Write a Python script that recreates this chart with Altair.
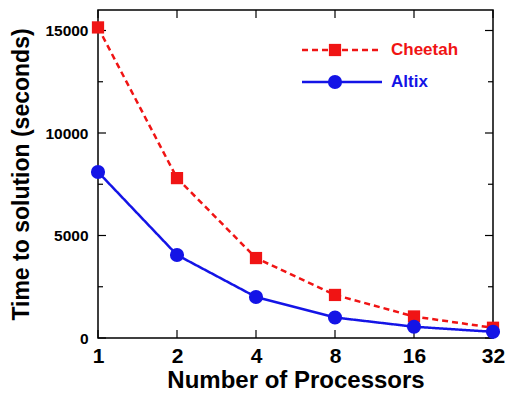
import altair as alt
import pandas as pd

# ---- data ----
processors = [1, 2, 4, 8, 16, 32]
cheetah = [15150, 7800, 3900, 2100, 1050, 500]
altix = [8100, 4050, 2000, 1000, 550, 300]
series = ["Cheetah", "Altix"]
colors = ["#f01414", "#1414e6"]
y_major = [0, 5000, 10000, 15000]
y_minor = [2500, 7500, 12500]
x_ticks = [1, 2, 4, 8, 16, 32]

W, H = 395, 328
FONT = "Liberation Sans"

df = pd.DataFrame({
    "procs": processors * 2,
    "time": cheetah + altix,
    "series": [series[0]] * len(processors) + [series[1]] * len(processors),
})

xscale = alt.Scale(type="log", base=2, domain=[1, 32], nice=False)
yscale = alt.Scale(domain=[0, 16000], nice=False, zero=False)
xaxis = alt.Axis(values=x_ticks, format="d", title="Number of Processors",
                 tickSize=0, domain=False, grid=False, labelFontSize=21,
                 labelPadding=7, titleFontSize=24, titlePadding=2,
                 labelFont=FONT, titleFont=FONT, labelFontWeight="bold",
                 titleFontWeight="bold", labelColor="black", titleColor="black",
                 labelFlush=False)
yaxis = alt.Axis(values=y_major, format="d", title="Time to solution (seconds)",
                 tickSize=0, domain=False, grid=False, labelFontSize=15.5,
                 labelPadding=10, titleFontSize=23, titlePadding=11,
                 labelFont=FONT, titleFont=FONT, labelFontWeight="bold",
                 titleFontWeight="bold", labelColor="black", titleColor="black",
                 labelFlush=False)


def X():
    return alt.X("procs:Q", scale=xscale, axis=xaxis)


def Y():
    return alt.Y("time:Q", scale=yscale, axis=yaxis)


lines = []
points = []
dashes = [[6, 4], [1, 0]]
shapes = ["square", "circle"]
sizes = [150, 200]
for i, s in enumerate(series):
    d = df[df["series"] == s]
    lines.append(alt.Chart(d).mark_line(strokeWidth=2.5, strokeDash=dashes[i], color=colors[i])
                 .encode(x=X(), y=Y()))
    points.append(alt.Chart(d).mark_point(shape=shapes[i], filled=True, size=sizes[i],
                                          opacity=1, color=colors[i])
                  .encode(x=X(), y=Y()))

# inward ticks
ymaj = pd.DataFrame({"time": y_major})
ymin = pd.DataFrame({"time": y_minor})
xt = pd.DataFrame({"procs": x_ticks})
tick_layers = [
    alt.Chart(ymaj).mark_rule(color="black", strokeWidth=1.2).encode(y=Y(), x=alt.value(0), x2=alt.value(8)),
    alt.Chart(ymaj).mark_rule(color="black", strokeWidth=1.2).encode(y=Y(), x=alt.value(W - 8), x2=alt.value(W)),
    alt.Chart(ymin).mark_rule(color="black", strokeWidth=1.2).encode(y=Y(), x=alt.value(0), x2=alt.value(5)),
    alt.Chart(ymin).mark_rule(color="black", strokeWidth=1.2).encode(y=Y(), x=alt.value(W - 5), x2=alt.value(W)),
    alt.Chart(xt).mark_rule(color="black", strokeWidth=1.2).encode(x=X(), y=alt.value(H - 8), y2=alt.value(H)),
    alt.Chart(xt).mark_rule(color="black", strokeWidth=1.2).encode(x=X(), y=alt.value(0), y2=alt.value(8)),
]

# custom legend
legend_layers = []
legend_y = [40, 72]
for i, s in enumerate(series):
    ld = pd.DataFrame({"series": [s]})
    legend_layers.append(alt.Chart(ld).mark_rule(strokeWidth=2.5, strokeDash=dashes[i], color=colors[i])
                         .encode(x=alt.value(204), x2=alt.value(284), y=alt.value(legend_y[i])))
    legend_layers.append(alt.Chart(ld).mark_point(shape=shapes[i], filled=True, size=sizes[i],
                                                  opacity=1, color=colors[i])
                         .encode(x=alt.value(237), y=alt.value(legend_y[i])))
    legend_layers.append(alt.Chart(ld).mark_text(align="left", baseline="middle", font=FONT,
                                                 fontWeight="bold", fontSize=17, color=colors[i])
                         .encode(x=alt.value(293), y=alt.value(legend_y[i]), text="series:N"))

chart = alt.layer(*tick_layers, *lines, *points, *legend_layers).properties(
    width=W, height=H,
    autosize=alt.AutoSizeParams(type="none"),
    padding={"left": 98, "top": 10, "right": 12, "bottom": 55},
    background="white",
).configure_view(stroke="black", strokeWidth=1.5)

chart.save("out.html", embed_options={"renderer": "svg", "actions": False})
